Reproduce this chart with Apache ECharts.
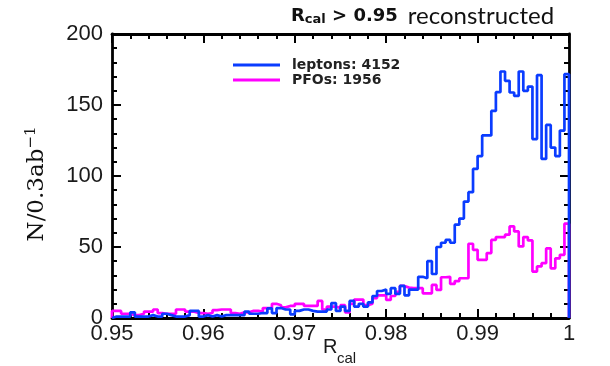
<!DOCTYPE html>
<html><head><meta charset="utf-8">
<script src="https://cdn.jsdelivr.net/npm/echarts@6/dist/echarts.min.js"></script>
<style>html,body{margin:0;padding:0;background:#fff;}#c{width:610px;height:366px;}</style>
</head><body><div id="c"></div>
<script>
// histogram binning: 100 bins of width 0.0005 from 0.95 to 1.0
const binLow = 0.95;
const binWidth = 0.0005;
const seriesNames = ['leptons: 4152', 'PFOs: 1956'];
const leptons = [
  1,1,1,1,4,1,1,1,2,1,
  1,3,2,1,1,1,2,5,5,1,
  2,1,2,1,2,2,2,2,2,4.5,
  3,3,3.5,3.5,6.8,3.5,7,6,6,2.6,
  5,6,6,5,4.5,4.5,4.5,6,10.5,5,
  8,5,12,8,10,8,11,15.5,19,20,
  17,21,17,22.6,16,20,20,29,28,40,
  31,50,53,55,53,65.7,70,82,88.6,105,
  114,128.6,128.6,145.8,159,173.6,167,158.8,156.4,173.6,
  160,163,126,171,112,136,120,114,132,171.7
];
const pfos = [
  5,5,3,3,2,2,3,4.5,4.5,6,
  3.5,3,3,3,6,6,4.5,4.5,3.5,3.5,
  3,3.5,5.5,6,6,6,3.5,3,4,4,
  5,5,4.5,7,7,10,9,7.5,8.5,8.5,
  10,10,8.5,8.5,8.5,12,6,8,8,7,
  9,4,10,13,13,9,10,14,16,16,
  12.7,15.5,18.5,22.6,21.4,21,21,21,17.4,17.4,
  23.3,19.8,28.7,29,24,26,28,28,52.3,48,
  41,41,45.7,55,57,57,58.7,64.5,61,50.4,
  57,54.6,32.7,36.3,38.6,49,35,42,44.5,66.4
];
const xTickLabels = ['0.95','0.96','0.97','0.98','0.99','1'];
const yTickLabels = ['0','50','100','150','200'];

function toSteps(vals) {
  const pts = [[binLow, 0]];
  vals.forEach((v, i) => pts.push([binLow + i * binWidth, v]));
  const hi = binLow + vals.length * binWidth;
  pts.push([hi, vals[vals.length - 1]]);
  pts.push([hi, 0]);
  return pts;
}

const frame = {color: '#000', width: 2.8};
const tickStyle = {color: '#000', width: 2};
function xAx(pos, showLabel) {
  return {
    type: 'value', min: 0.95, max: 1, interval: 0.01, position: pos,
    axisLine: {show: true, onZero: false, lineStyle: frame},
    axisTick: {show: true, inside: true, length: 9, lineStyle: tickStyle},
    minorTick: {show: true, splitNumber: 5, length: 5, lineStyle: tickStyle},
    splitLine: {show: false}, minorSplitLine: {show: false},
    axisLabel: {show: showLabel, fontFamily: 'Liberation Sans', fontSize: 22, color: '#1a1a1a', margin: 5,
      formatter: v => xTickLabels[Math.round((v - 0.95) / 0.01)]}
  };
}
function yAx(pos, showLabel) {
  return {
    type: 'value', min: 0, max: 200, interval: 50, position: pos,
    axisLine: {show: true, onZero: false, lineStyle: frame},
    axisTick: {show: true, inside: true, length: 9, lineStyle: tickStyle},
    minorTick: {show: true, splitNumber: 5, length: 5, lineStyle: tickStyle},
    splitLine: {show: false}, minorSplitLine: {show: false},
    axisLabel: {show: showLabel, fontFamily: 'Liberation Sans', fontSize: 22, color: '#1a1a1a', margin: 9,
      formatter: v => yTickLabels[Math.round(v / 50)]}
  };
}

const chart = echarts.init(document.getElementById('c'), null, {renderer: 'canvas'});
chart.setOption({
  animation: false,
  backgroundColor: '#fff',
  grid: {left: 112, right: 41, top: 34, bottom: 48, containLabel: false, outerBoundsMode: 'none'},
  title: {
    text: '{b|R}{s|cal}{b| > 0.95} {n|reconstructed}',
    left: 291, top: 6, padding: 0,
    textStyle: {
      rich: {
        b: {fontFamily: 'DejaVu Sans', fontWeight: 'bold', fontSize: 18, lineHeight: 20, color: '#111'},
        s: {fontFamily: 'DejaVu Sans', fontWeight: 'bold', fontSize: 13, lineHeight: 13, padding: [14, 0, 0, 0], verticalAlign: 'bottom', color: '#111'},
        n: {fontFamily: 'Lato', fontWeight: 'normal', fontSize: 24, lineHeight: 20, color: '#111', padding: [0, 0, 0, 5]}
      }
    }
  },
  legend: {
    orient: 'vertical', left: 233, top: 58, padding: 0, itemWidth: 47, itemHeight: 3, itemGap: 1, icon: 'rect',
    data: seriesNames,
    textStyle: {fontFamily: 'DejaVu Sans', fontWeight: 'bold', fontSize: 14, lineHeight: 10, color: '#222', padding: [0, 0, 0, 7]}
  },
  xAxis: [xAx('bottom', true), xAx('top', false)],
  yAxis: [yAx('left', true), yAx('right', false)],
  graphic: [
    {type: 'text', x: 323, y: 357, style: {
      text: 'R', align: 'left', verticalAlign: 'bottom',
      fontFamily: 'Liberation Sans', fontSize: 20, fill: '#1a1a1a'}},
    {type: 'text', x: 337, y: 366, style: {
      text: 'cal', align: 'left', verticalAlign: 'bottom',
      fontFamily: 'Liberation Sans', fontSize: 15, fill: '#1a1a1a'}},
    {type: 'text', x: 37, y: 184, rotation: Math.PI / 2, style: {
      text: '{a|N/0.3ab}{s|\u22121}', align: 'center', verticalAlign: 'middle',
      rich: {
        a: {fontFamily: 'DejaVu Serif', fontSize: 23, lineHeight: 26, fill: '#111'},
        s: {fontFamily: 'DejaVu Serif', fontSize: 15, lineHeight: 15, verticalAlign: 'top', fill: '#111'}
      }}}
  ],
  series: [
    {name: seriesNames[1], type: 'line', step: 'end', data: toSteps(pfos), symbol: 'none', z: 2,
      lineStyle: {color: '#ff00ff', width: 2.7}, itemStyle: {color: '#ff00ff'}},
    {name: seriesNames[0], type: 'line', step: 'end', data: toSteps(leptons), symbol: 'none', z: 3,
      lineStyle: {color: '#0a3cff', width: 2.7}, itemStyle: {color: '#0a3cff'}}
  ]
});
</script></body></html>
